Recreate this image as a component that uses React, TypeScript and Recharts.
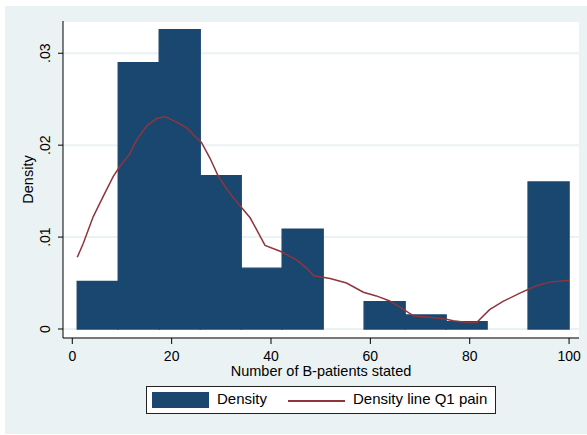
import React from "react";
import {
  ComposedChart,
  Bar,
  Line,
  XAxis,
  YAxis,
  CartesianGrid,
  Label,
} from "recharts";

// histogram bins (width 8.25, from 1 to 100)
const binCenters = [5.125, 13.375, 21.625, 29.875, 38.125, 46.375, 54.625, 62.875, 71.125, 79.375, 87.625, 95.875];
const binDensity = [0.00516, 0.02897, 0.03257, 0.01668, 0.00662, 0.01087, 0, 0.00298, 0.00153, 0.0008, 0, 0.016];

// kernel density line Q1 pain
const kdX = [1, 2.2, 4.2, 6.2, 8.25, 9.6, 11.5, 13, 15, 17, 18.7, 21, 23, 25, 26, 27.7, 29.4, 31.4, 32.7, 34.1, 35.8, 37.1, 38.8, 42.1, 45.2, 47.2, 48.6, 51.9, 55.2, 58.6, 61.2, 63.9, 65.9, 68.75, 72, 75.3, 76.7, 79.4, 81.4, 84, 86.7, 90.1, 93.4, 96.1, 100];
const kdY = [0.0078, 0.0093, 0.0122, 0.0144, 0.0166, 0.0177, 0.019, 0.0206, 0.0221, 0.0229, 0.0231, 0.0225, 0.0219, 0.0208, 0.0203, 0.0186, 0.0166, 0.015, 0.0141, 0.0132, 0.0121, 0.0108, 0.0091, 0.0084, 0.0075, 0.0066, 0.0058, 0.0055, 0.005, 0.004, 0.0036, 0.00305, 0.0024, 0.0014, 0.00127, 0.00106, 0.0009, 0.0007, 0.0007, 0.0021, 0.003, 0.0039, 0.0047, 0.0051, 0.0053];

const xTicks = [0, 20, 40, 60, 80, 100];
const yTicks = [0, 0.01, 0.02, 0.03];

const NAVY = "#1a476f";
const MAROON = "#90353b";
const BG = "#eaf2f3";
const FONT = "'Liberation Sans', Arial, sans-serif";

const X_DOMAIN: [number, number] = [-1.87, 102];
const Y_DOMAIN: [number, number] = [-0.00098, 0.03351];

const binRows = binCenters.map((x, i) => ({ x, density: binDensity[i] }));
const kdRows = kdX.map((x, i) => ({ x, kd: kdY[i] }));

const fmtY = (v: number) => (v === 0 ? "0" : v.toFixed(2).replace(/^0/, ""));

function YTick({ y, payload }: any) {
  return (
    <text
      transform={`translate(50,${y}) rotate(-90)`}
      textAnchor="middle"
      fontSize={14}
      fontFamily={FONT}
      fill="#000"
    >
      {fmtY(payload.value)}
    </text>
  );
}

function XTick({ x, payload }: any) {
  return (
    <text x={x} y={360.5} textAnchor="middle" fontSize={14} fontFamily={FONT} fill="#000">
      {payload.value}
    </text>
  );
}

export default function App() {
  return (
    <div style={{ position: "fixed", left: 0, top: 0, width: 587, height: 435, background: "#fff" }}>
      <div style={{ position: "absolute", left: 5, top: 6, width: 582, height: 428, background: BG }} />
      <div style={{ position: "absolute", left: 0, top: 0 }}>
        <ComposedChart
          width={587}
          height={435}
          data={binRows}
          margin={{ top: 21, right: 8, bottom: 0, left: 0 }}
          barCategoryGap={0}
          barGap={0}
        >
          <CartesianGrid vertical={false} fill="#fff" stroke={BG} strokeWidth={2} />
          <XAxis
            dataKey="x"
            type="number"
            domain={X_DOMAIN}
            ticks={xTicks}
            allowDataOverflow
            height={97}
            tickSize={6}
            tick={<XTick />}
            axisLine={{ stroke: "#000" }}
            tickLine={{ stroke: "#000" }}
          >
            <Label
              content={() => (
                <text x={321} y={376} textAnchor="middle" fontSize={14.5} fontFamily={FONT} fill="#000">
                  Number of B-patients stated
                </text>
              )}
            />
          </XAxis>
          <XAxis xAxisId="kd" dataKey="x" type="number" domain={X_DOMAIN} allowDataOverflow hide />
          <YAxis
            type="number"
            domain={Y_DOMAIN}
            ticks={yTicks}
            allowDataOverflow
            width={63}
            tickSize={5}
            tick={<YTick />}
            axisLine={{ stroke: "#000" }}
            tickLine={{ stroke: "#000" }}
          >
            <Label
              content={() => (
                <text
                  transform="translate(32.5,179.5) rotate(-90)"
                  textAnchor="middle"
                  fontSize={14.5}
                  fontFamily={FONT}
                  fill="#000"
                >
                  Density
                </text>
              )}
            />
          </YAxis>
          <Bar dataKey="density" fill={NAVY} stroke={NAVY} strokeWidth={1.4} isAnimationActive={false} />
          <Line
            xAxisId="kd"
            data={kdRows}
            dataKey="kd"
            type="linear"
            stroke={MAROON}
            strokeWidth={1.5}
            dot={false}
            activeDot={false}
            isAnimationActive={false}
          />
        </ComposedChart>
      </div>
      <div
        style={{
          position: "absolute",
          left: 146,
          top: 386,
          width: 348,
          height: 26,
          border: "1px solid #222",
          background: "#fff",
          fontFamily: FONT,
          fontSize: 15,
        }}
      >
        <div style={{ position: "absolute", left: 5, top: 5, width: 57, height: 16, background: NAVY }} />
        <span style={{ position: "absolute", left: 70, top: 3, lineHeight: "18px" }}>Density</span>
        <div style={{ position: "absolute", left: 141, top: 13, width: 57, height: 1.5, background: MAROON }} />
        <span style={{ position: "absolute", left: 206, top: 3, lineHeight: "18px" }}>Density line Q1 pain</span>
      </div>
    </div>
  );
}
